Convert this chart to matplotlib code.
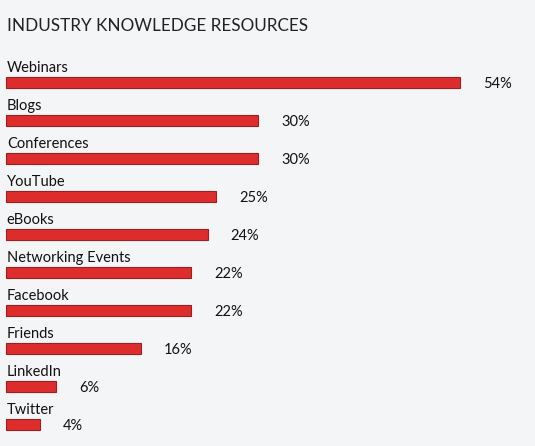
import matplotlib.pyplot as plt

categories = ['Webinars', 'Blogs', 'Conferences', 'YouTube', 'eBooks',
              'Networking Events', 'Facebook', 'Friends', 'LinkedIn', 'Twitter']
values = [54, 30, 30, 25, 24, 22, 22, 16, 6, 4]
value_labels = ['54%', '30%', '30%', '25%', '24%', '22%', '22%', '16%', '6%', '4%']

bg = '#f4f5f7'
bar_color = '#de2d2d'
edge_color = '#9e1f1f'
font = ['Lato', 'DejaVu Sans']

fig = plt.figure(figsize=(5.35, 4.46), dpi=100, facecolor=bg)
ax = fig.add_axes([0, 0, 1, 1])
ax.set_facecolor(bg)

px_per_unit = (460 - 6) / 54.0
ax.set_xlim(-6 / px_per_unit, (535 - 6) / px_per_unit)
row = 38.0
ax.set_ylim((446 - 82) / row, -82 / row)

pos = list(range(len(categories)))
ax.barh(pos, values, height=11 / row, color=bar_color, edgecolor=edge_color,
        linewidth=0.8, left=0)

for i, (cat, v, lab) in enumerate(zip(categories, values, value_labels)):
    ax.text(0.1, i - 10 / row, cat, ha='left', va='baseline',
            fontsize=10.5, color='#111111', family=font)
    ax.text(v + 23 / px_per_unit, i + 0.04, lab, ha='left', va='center',
            fontsize=10.5, color='#111111', family=font)

ax.axis('off')

fig.text(7 / 535, 1 - 31 / 446, 'INDUSTRY KNOWLEDGE RESOURCES', ha='left',
         va='baseline', fontsize=12.3, color='#222222', family=font)

fig.savefig('out.png', dpi=100, facecolor=bg)
